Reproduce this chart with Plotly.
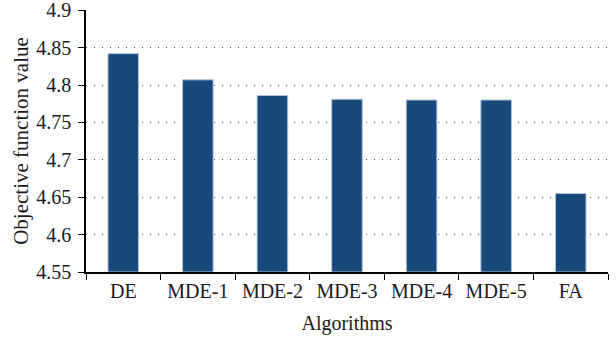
import plotly.graph_objects as go

categories = ["DE", "MDE-1", "MDE-2", "MDE-3", "MDE-4", "MDE-5", "FA"]
values = [4.842, 4.807, 4.786, 4.781, 4.780, 4.780, 4.655]
y_ticks = [4.55, 4.6, 4.65, 4.7, 4.75, 4.8, 4.85, 4.9]
y_tick_labels = ["4.55", "4.6", "4.65", "4.7", "4.75", "4.8", "4.85", "4.9"]
y_min = 4.55
y_max = 4.9

font_family = "Liberation Serif"

fig = go.Figure(
    go.Bar(
        x=categories,
        y=[v - y_min for v in values],
        base=y_min,
        width=0.41,
        marker=dict(color="#17497d", line=dict(color="#b4c2d4", width=1)),
    )
)

fig.update_layout(
    width=616,
    height=343,
    margin=dict(l=86, r=8, t=10, b=71),
    plot_bgcolor="white",
    paper_bgcolor="white",
    showlegend=False,
    font=dict(family=font_family, size=20, color="#1a1a1a"),
)
fig.update_xaxes(
    automargin=False,
    showline=True,
    linecolor="black",
    linewidth=1.5,
    ticks="outside",
    tickson="boundaries",
    ticklen=6,
    tickcolor="black",
    showgrid=False,
    title=dict(text="Algorithms", font=dict(family=font_family, size=20)),
    tickfont=dict(family=font_family, size=20),
    ticklabeloverflow="allow",
)
fig.update_yaxes(
    automargin=False,
    range=[y_min, y_max + 0.0004],
    tickvals=y_ticks,
    ticktext=y_tick_labels,
    showline=True,
    linecolor="black",
    linewidth=1.5,
    ticks="outside",
    ticklen=6,
    tickcolor="black",
    ticklabelstandoff=3,
    showgrid=True,
    gridcolor="#555555",
    gridwidth=1,
    griddash="1px,7px",
    zeroline=False,
    title=dict(text="Objective function value", font=dict(family=font_family, size=21), standoff=2),
    tickfont=dict(family=font_family, size=20),
    ticklabeloverflow="allow",
)

fig.write_html(
    "out.html",
    config={"displayModeBar": False},
    post_script="document.body.style.margin='0';",
)
